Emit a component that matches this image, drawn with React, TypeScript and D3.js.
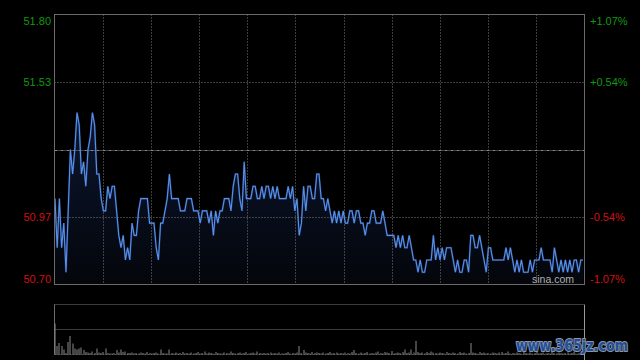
import React from "react";
import * as d3 from "d3";

// ---- data ----
const prevClose = 51.25;
const priceTicks = [51.8, 51.525, 51.25, 50.975, 50.7];
const leftLabels = ["51.80", "51.53", "", "50.97", "50.70"];
const rightLabels = ["+1.07%", "+0.54%", "", "-0.54%", "-1.07%"];

const prices = [
  51.05, 50.85, 51.05, 50.85, 50.95, 50.75, 51.0, 51.25, 51.15, 51.25,
  51.4, 51.35, 51.15, 51.2, 51.1, 51.25, 51.3, 51.4, 51.35, 51.15,
  51.15, 51.05, 51.0, 51.0, 51.1, 51.05, 51.1, 51.1, 51.0, 50.9,
  50.85, 50.9, 50.8, 50.85, 50.8, 50.95, 50.9, 50.9, 51.0, 51.05,
  51.05, 51.05, 51.05, 50.95, 50.95, 50.95, 50.85, 50.8, 50.95, 50.95,
  51.0, 51.05, 51.15, 51.05, 51.05, 51.05, 51.05, 51.0, 51.0, 51.0,
  51.05, 51.05, 51.05, 51.0, 51.0, 51.0, 50.95, 51.0, 51.0, 51.0,
  50.95, 51.0, 50.9, 51.0, 50.95, 51.0, 51.0, 51.05, 51.05, 51.05,
  51.0, 51.1, 51.15, 51.15, 51.05, 51.0, 51.2, 51.05, 51.05, 51.05,
  51.1, 51.1, 51.05, 51.05, 51.1, 51.05, 51.1, 51.1, 51.05, 51.1,
  51.05, 51.1, 51.05, 51.05, 51.05, 51.05, 51.1, 51.05, 51.1, 51.0,
  51.05, 50.9, 50.95, 51.1, 51.0, 51.1, 51.1, 51.05, 51.05, 51.15,
  51.15, 51.05, 51.05, 51.0, 51.05, 51.0, 50.95, 51.0, 50.95, 51.0,
  50.95, 51.0, 50.95, 50.95, 51.0, 51.0, 50.95, 51.0, 51.0, 50.95,
  50.95, 50.9, 50.95, 50.95, 51.0, 51.0, 50.95, 50.95, 50.95, 51.0,
  50.95, 50.9, 50.9, 50.9, 50.9, 50.85, 50.9, 50.85, 50.9, 50.85,
  50.85, 50.9, 50.85, 50.8, 50.8, 50.75, 50.8, 50.75, 50.75, 50.8,
  50.8, 50.8, 50.9, 50.8, 50.85, 50.8, 50.85, 50.8, 50.85, 50.85,
  50.85, 50.8, 50.75, 50.8, 50.75, 50.75, 50.8, 50.8, 50.75, 50.9,
  50.9, 50.85, 50.85, 50.9, 50.85, 50.8, 50.75, 50.85, 50.85, 50.8,
  50.8, 50.8, 50.8, 50.8, 50.8, 50.85, 50.8, 50.85, 50.8, 50.75,
  50.8, 50.75, 50.8, 50.75, 50.75, 50.75, 50.8, 50.75, 50.8, 50.8,
  50.8, 50.85, 50.8, 50.8, 50.8, 50.8, 50.75, 50.85, 50.8, 50.75,
  50.8, 50.75, 50.8, 50.75, 50.8, 50.75, 50.8, 50.8, 50.75, 50.8,
  50.8,
];

const volumes = [
  62, 17, 23, 17, 10, 3, 25, 37, 22, 12,
  10, 12, 14, 9, 5, 4, 3, 6, 3, 12,
  4, 3, 5, 12, 3, 2, 2, 3, 9, 4,
  10, 5, 6, 3, 3, 4, 2, 3, 2, 4,
  3, 2, 5, 3, 2, 3, 4, 2, 10, 3,
  2, 2, 10, 3, 2, 4, 2, 3, 5, 2,
  3, 2, 4, 2, 3, 5, 2, 3, 6, 2,
  4, 3, 2, 5, 3, 2, 2, 4, 3, 2,
  6, 3, 2, 3, 4, 2, 3, 5, 2, 3,
  4, 2, 6, 3, 2, 3, 2, 3, 4, 2,
  3, 2, 4, 2, 2, 3, 5, 2, 3, 2,
  4, 17, 3, 9, 4, 3, 2, 5, 3, 4,
  3, 2, 4, 2, 3, 5, 2, 3, 4, 2,
  3, 2, 4, 3, 2, 5, 9, 3, 2, 4,
  2, 3, 5, 2, 3, 2, 4, 6, 3, 2,
  5, 4, 3, 7, 2, 3, 4, 3, 5, 10,
  3, 4, 10, 4, 27, 5, 3, 4, 2, 5,
  3, 6, 4, 3, 2, 4, 3, 2, 5, 3,
  2, 4, 3, 2, 5, 3, 4, 2, 3, 23,
  4, 3, 2, 5, 3, 4, 2, 3, 2, 4,
  3, 2, 4, 5, 2, 3, 6, 2, 3, 2,
  4, 3, 2, 5, 3, 2, 4, 2, 3, 5,
  2, 3, 4, 2, 3, 2, 5, 3, 2, 4,
  3, 2, 3, 4, 2, 3, 5, 2, 3, 2,
  4,
];

const volumeMax = 100;
const columns = d3.range(0, 12);

export default function App() {
  const W = 640, H = 360;
  const left = 54.5, right = 584.5, top = 14.5, bottom = 284.5;
  const vTop = 304.5, vBottom = 354.5;

  const x = d3.scaleLinear().domain([0, 240]).range([55, 583]);
  const y = d3.scaleLinear().domain([50.7, 51.8]).range([bottom, top]);
  const vy = d3.scaleLinear().domain([0, volumeMax]).range([vBottom, vTop]);
  const colX = d3.scaleLinear().domain([0, 11]).range([left, right]);

  const line = d3.line<number>().x((_, i) => x(i)).y((d) => y(d));
  const area = d3
    .area<number>()
    .x((_, i) => x(i))
    .y0(bottom)
    .y1((d) => y(d));

  const labelY = (i: number) => {
    const yy = y(priceTicks[i]);
    if (i === 0) return yy + 10;
    if (i === priceTicks.length - 1) return yy - 2;
    return yy + 4;
  };
  const green = "#109a10";
  const red = "#d01010";
  const font = "'Liberation Sans', Arial, sans-serif";

  return (
    <div style={{ position: "absolute", left: 0, top: 0, width: W, height: H, background: "#000" }}>
      <svg width={W} height={H} style={{ display: "block" }}>
        <defs>
          <linearGradient id="areaG" gradientUnits="userSpaceOnUse" x1="0" y1={110} x2="0" y2={bottom}>
            <stop offset="0" stopColor="#0b1630" />
            <stop offset="1" stopColor="#04060b" />
          </linearGradient>
        </defs>
        <rect width={W} height={H} fill="#000" />

        {/* area */}
        <path d={area(prices) || ""} fill="url(#areaG)" />

        {/* vertical grid */}
        {columns.slice(1, 11).map((c) => (
          <line key={c} x1={Math.round(colX(c)) + 0.5} x2={Math.round(colX(c)) + 0.5} y1={top} y2={bottom}
            stroke="#7a7a7a" strokeWidth={1} strokeDasharray="1,2" />
        ))}
        {/* horizontal grid */}
        {priceTicks.map((p, i) =>
          i === 0 || i === priceTicks.length - 1 ? null : (
            <line key={i} x1={left} x2={right} y1={Math.round(y(p)) + 0.5} y2={Math.round(y(p)) + 0.5}
              stroke={i === 2 ? "#8a8a8a" : "#7a7a7a"} strokeWidth={1}
              strokeDasharray={i === 2 ? "3,1,1,1" : "1,2"} />
          )
        )}

        {/* price line */}
        <path d={line(prices) || ""} fill="none" stroke="#2c5bb0" strokeWidth={2} strokeOpacity={0.45} />
        <path d={line(prices) || ""} fill="none" stroke="#5a90ea" strokeWidth={1.1} />

        {/* frame */}
        <rect x={left} y={top} width={right - left} height={bottom - top} fill="none" stroke="#6a6a6a" strokeWidth={1} />

        {/* labels */}
        {priceTicks.map((p, i) =>
          leftLabels[i] ? (
            <text key={"l" + i} x={51} y={labelY(i)} textAnchor="end" fontFamily={font} fontSize={11}
              fill={p > prevClose ? green : red}>{leftLabels[i]}</text>
          ) : null
        )}
        {priceTicks.map((p, i) =>
          rightLabels[i] ? (
            <text key={"r" + i} x={590} y={labelY(i)} textAnchor="start" fontFamily={font} fontSize={11}
              fill={p > prevClose ? green : red}>{rightLabels[i]}</text>
          ) : null
        )}

        <text x={532} y={283} fontFamily={font} fontSize={10.5} fill="#b0b0b0">sina.com</text>

        {/* volume panel */}
        <line x1={left} x2={right} y1={vTop} y2={vTop} stroke="#7a7a7a" strokeDasharray="1,1" />
        <line x1={left} x2={right} y1={329.5} y2={329.5} stroke="#7a7a7a" strokeDasharray="1,1" />
        <line x1={left} x2={right} y1={vBottom} y2={vBottom} stroke="#5a5a5a" strokeDasharray="2,1" />
        <line x1={left} x2={left} y1={vTop} y2={vBottom} stroke="#6a6a6a" />
        <line x1={right} x2={right} y1={vTop} y2={H} stroke="#9a9a9a" />
        {volumes.map((v, i) => (
          <rect key={i} x={Math.round(x(i)) - 0.5} y={vy(v)} width={1} height={vBottom - vy(v)} fill="#8a8a8a" />
        ))}

        {/* watermark */}
        <text x={516} y={351} fontFamily="'DejaVu Sans', sans-serif" fontWeight="bold" fontSize={15}
          textLength={112} lengthAdjust="spacingAndGlyphs" fill="#1f4e96" stroke="#8d96a6" strokeWidth={2}
          paintOrder="stroke" strokeLinejoin="round">www.365jz.com</text>
      </svg>
    </div>
  );
}
